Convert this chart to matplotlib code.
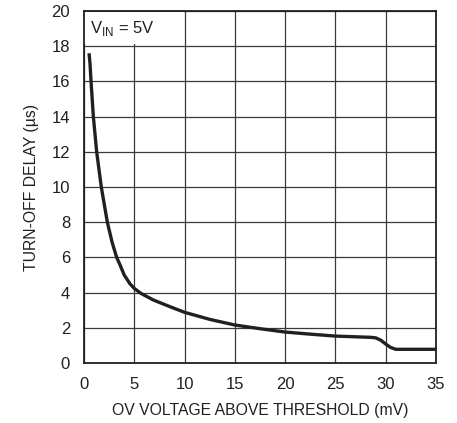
import matplotlib
matplotlib.use("Agg")
import matplotlib.pyplot as plt
from matplotlib.patches import Rectangle

plt.rcParams["font.family"] = ["Liberation Sans", "DejaVu Sans"]

# curve
ov_mv = [0.5, 0.6, 0.7, 0.93, 1.26, 1.72, 2.32, 2.8, 3.25, 3.6, 4.0, 4.57, 5.0,
         5.65, 6.9, 8.55, 10.0, 12.5, 15.0, 17.5, 20.0, 22.5, 25.0, 27.5, 28.5,
         29.0, 29.5, 30.0, 30.5, 31.0, 35.0]
delay_us = [17.6, 17.0, 16.0, 14.0, 12.0, 10.0, 8.0, 6.85, 6.0, 5.55, 5.0, 4.5, 4.24,
            3.96, 3.58, 3.2, 2.88, 2.48, 2.16, 1.95, 1.76, 1.64, 1.53, 1.48, 1.46,
            1.43, 1.30, 1.08, 0.88, 0.78, 0.78]

x_ticks = [0, 5, 10, 15, 20, 25, 30, 35]
y_ticks = [0, 2, 4, 6, 8, 10, 12, 14, 16, 18, 20]

fig = plt.figure(figsize=(4.57, 4.23), dpi=100)
ax = fig.add_axes([0.1838, 0.1418, 0.954 - 0.1838, 0.974 - 0.1418])

ax.plot(ov_mv, delay_us, color="#231f20", lw=2.4, solid_joinstyle="round",
        solid_capstyle="butt", zorder=3)

ax.set_xlim(0, 35)
ax.set_ylim(0, 20)
ax.set_xticks(x_ticks)
ax.set_yticks(y_ticks)
ax.grid(True, color="#3a3a3a", lw=0.9)
ax.tick_params(length=0, labelsize=12, pad=10, colors="#231f20")
for s in ax.spines.values():
    s.set_linewidth(1.3)
    s.set_color("#231f20")
    s.set_zorder(4)

ax.set_xlabel("OV VOLTAGE ABOVE THRESHOLD (mV)", fontsize=11.3, labelpad=8, color="#231f20")
ax.set_ylabel("TURN-OFF DELAY (µs)", fontsize=11.3, labelpad=9, color="#231f20")

# white label area in the top-left cell hides the grid behind the text
ax.add_patch(Rectangle((0.05, 18.1), 9.8, 1.85, facecolor="white", edgecolor="none", zorder=2))
ax.text(0.6, 19.0, r"V$_{\mathregular{IN}}$ = 5V", fontsize=12, va="center", ha="left",
        color="#231f20", zorder=5)

fig.savefig("out.png", dpi=100)
